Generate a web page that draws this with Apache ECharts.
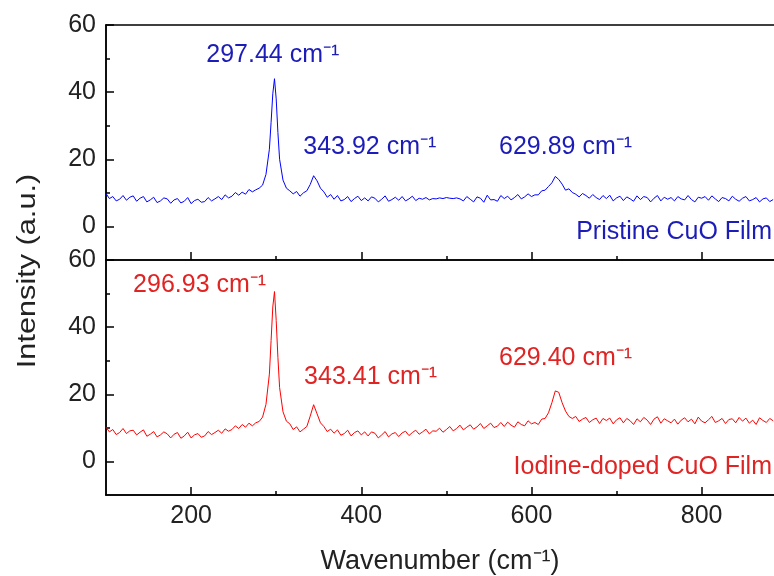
<!DOCTYPE html>
<html>
<head>
<meta charset="utf-8">
<script src="https://cdn.jsdelivr.net/npm/echarts@6/dist/echarts.min.js"></script>
<style>
  html, body { margin: 0; padding: 0; background: #fff; }
  #chart { width: 774px; height: 576px; }
</style>
</head>
<body>
<div id="chart"></div>
<script>
// wavenumber grid (cm-1), extra points around the 297 peak
const wavenumber = [
  100, 104, 108, 112, 116, 120, 124, 128, 132, 136,
  140, 144, 148, 152, 156, 160, 164, 168, 172, 176,
  180, 184, 188, 192, 196, 200, 204, 208, 212, 216,
  220, 224, 228, 232, 236, 240, 244, 248, 252, 256,
  260, 264, 268, 272, 276, 280, 284, 288, 292, 294,
  296, 298, 300, 302, 304, 308, 312, 316, 320, 324,
  328, 332, 336, 340, 344, 348, 352, 356, 360, 364,
  368, 372, 376, 380, 384, 388, 392, 396, 400, 404,
  408, 412, 416, 420, 424, 428, 432, 436, 440, 444,
  448, 452, 456, 460, 464, 468, 472, 476, 480, 484,
  488, 492, 496, 500, 504, 508, 512, 516, 520, 524,
  528, 532, 536, 540, 544, 548, 552, 556, 560, 564,
  568, 572, 576, 580, 584, 588, 592, 596, 600, 604,
  608, 612, 616, 620, 624, 628, 632, 636, 640, 644,
  648, 652, 656, 660, 664, 668, 672, 676, 680, 684,
  688, 692, 696, 700, 704, 708, 712, 716, 720, 724,
  728, 732, 736, 740, 744, 748, 752, 756, 760, 764,
  768, 772, 776, 780, 784, 788, 792, 796, 800, 804,
  808, 812, 816, 820, 824, 828, 832, 836, 840, 844,
  848, 852, 856, 860, 864, 868, 872, 876, 880, 884
];

// Pristine CuO film (blue)
const pristine = [
  9.8, 8.3, 8.9, 7.6, 8.1, 9.2, 7.8, 8.7, 9.1, 7.5,
  8.4, 8.9, 7.3, 7.9, 8.7, 7.1, 7.6, 8.5, 8.2, 6.9,
  7.9, 8.3, 7.0, 7.5, 8.6, 6.8, 7.7, 8.1, 7.2, 7.4,
  8.6, 7.6, 8.2, 8.9, 8.0, 9.4, 8.5, 9.0, 10.1, 9.3,
  10.2, 9.6, 11.0, 10.3, 10.9, 11.4, 12.3, 15.5, 23.0, 31.0,
  39.5, 44.0, 38.0, 28.0, 20.0, 13.8, 11.4, 10.6, 9.7, 10.4,
  9.0, 10.0, 10.6, 12.5, 15.1, 13.6, 11.4, 10.3, 8.7, 9.5,
  8.1, 9.2, 7.6, 8.0, 8.9, 7.4, 8.3, 9.0, 7.7, 8.5,
  7.6, 8.8, 8.4, 7.3, 8.1, 9.1, 7.5, 8.0, 8.7, 7.8,
  8.9, 7.6, 8.2, 9.0, 7.7, 8.4, 8.1, 8.6, 7.9, 8.3,
  8.2, 8.5, 8.3, 8.6, 8.4, 8.3, 8.5, 8.2, 7.6, 8.9,
  8.1, 7.3, 8.8, 8.4, 7.2, 9.3, 7.9, 8.0, 7.5, 9.2,
  8.3, 9.0, 7.9, 8.6, 9.5, 8.2, 8.8, 9.7, 8.9, 9.4,
  9.4, 10.6, 10.8, 11.9, 13.0, 14.9, 14.0, 12.6, 10.8, 11.2,
  10.1, 9.6, 8.8, 9.8, 9.2, 8.4, 9.5, 8.6, 8.0, 9.2,
  8.3, 9.3, 7.6, 8.5, 9.0, 7.7, 8.8, 8.2, 7.5, 9.1,
  8.0, 8.9, 8.6, 7.3, 8.4, 9.2, 7.6, 8.7, 8.1, 8.6,
  7.6, 8.9, 8.2, 7.9, 9.2, 8.0, 7.3, 8.7, 8.4, 8.9,
  7.8, 9.1, 8.2, 7.4, 8.6, 8.3, 7.6, 9.0, 8.1, 7.5,
  8.4, 8.9, 7.6, 8.0, 8.6, 7.3, 8.2, 8.5, 7.4, 8.0
];

// Iodine-doped CuO film (red)
const iodine = [
  10.2, 8.8, 9.5, 8.0, 8.6, 9.8, 8.3, 9.1, 9.3, 7.9,
  8.7, 9.4, 7.5, 8.1, 8.9, 7.3, 7.9, 8.8, 8.2, 7.0,
  8.1, 8.6, 6.9, 7.6, 8.7, 7.0, 7.9, 8.3, 7.2, 7.6,
  8.9, 8.0, 8.6, 9.3, 8.4, 9.7, 9.0, 9.5, 10.6, 9.8,
  11.0, 10.2, 11.4, 10.6, 11.5, 11.9, 13.2, 17.0, 26.0, 36.0,
  46.0, 50.6, 42.0, 31.0, 22.0, 14.8, 12.0, 11.2, 9.5, 10.3,
  8.8, 9.6, 10.4, 13.5, 16.9, 14.2, 11.5, 10.4, 8.9, 9.6,
  8.4, 9.4, 7.8, 8.3, 9.3, 7.6, 8.6, 9.1, 7.9, 8.8,
  7.6, 8.8, 8.4, 7.0, 7.9, 8.9, 7.3, 8.2, 8.6, 7.4,
  8.5, 9.0, 7.7, 8.6, 9.3, 8.1, 8.8, 9.6, 8.2, 9.1,
  9.0, 9.9, 8.7, 9.5, 10.4, 9.1, 9.8, 10.8, 9.4, 10.2,
  10.9, 9.6, 10.3, 11.3, 9.8, 10.6, 11.4, 10.1, 10.5, 11.6,
  10.4, 11.7, 10.8, 10.2, 11.8, 11.0, 10.6, 12.1, 11.2, 11.6,
  11.0, 12.6, 12.8, 14.5, 17.5, 21.0, 20.6, 17.5, 15.0, 13.4,
  12.8, 13.4, 11.9, 12.6, 13.1, 11.6, 12.4, 12.9, 11.3, 12.8,
  12.2, 12.9, 11.2, 12.4, 13.0, 11.5, 12.8, 12.1, 11.0, 12.7,
  11.8, 13.1, 12.3, 11.0, 12.6, 13.3, 11.4, 12.7, 12.1, 11.5,
  12.6, 11.1, 12.3, 13.0, 11.8, 12.6, 11.2, 13.2, 12.0, 11.5,
  12.4, 13.4, 11.6, 12.1, 12.8, 11.3, 12.5, 12.7, 11.5, 13.1,
  12.0, 12.9, 11.4, 12.3, 11.0, 13.0, 12.2, 11.6, 12.8, 12.1
];

// tick values
const xMajor = [200, 400, 600, 800];
const xMinor = [300, 500, 700];
const yMajor = [0, 20, 40, 60];
const yMinor = [10, 30, 50];

// peak annotations: [text, wavenumber, intensity]
const pristineNotes = [
  ['297.44 cm⁻¹', 296, 51],
  ['343.92 cm⁻¹', 410, 23.5],
  ['629.89 cm⁻¹', 640, 23.5]
];
const iodineNotes = [
  ['296.93 cm⁻¹', 210, 52.6],
  ['343.41 cm⁻¹', 411, 25.2],
  ['629.40 cm⁻¹', 640, 30.9]
];

const FONT = 'Arial, "Liberation Sans", sans-serif';
const BLUE = '#0000ff', BLUE_TXT = '#1c1cb8';
const RED = '#ff0000', RED_TXT = '#e02424';
const X_MIN = 100, X_MAX = 885;

const chart = echarts.init(document.getElementById('chart'));

const pairs = (ys) => wavenumber.map((x, i) => [x, ys[i]]);

const noteMarks = (notes, color, filmName, filmY) => ({
  symbol: 'circle',
  symbolSize: 0,
  silent: true,
  animation: false,
  label: { show: true, position: 'inside', formatter: '{b}', color: color, fontSize: 25, fontFamily: FONT },
  data: notes.map(n => ({ name: n[0], coord: [n[1], n[2]] })).concat([{
    name: filmName, coord: [X_MAX, filmY],
    label: { position: 'left', distance: 2 }
  }])
});

const axisLineStyle = { color: '#000', width: 1.5 };

function xAxes(grid, withLabels) {
  return [
    {
      type: 'value', gridIndex: grid, position: 'bottom', min: X_MIN, max: X_MAX,
      axisLine: { show: true, onZero: false, lineStyle: axisLineStyle },
      axisTick: { show: true, inside: true, length: 8, customValues: xMajor, lineStyle: axisLineStyle },
      axisLabel: { show: withLabels, customValues: xMajor, margin: 9, fontSize: 25, color: '#222', fontFamily: FONT },
      splitLine: { show: false },
      name: withLabels ? 'Wavenumber (cm⁻¹)' : '',
      nameLocation: 'middle', nameGap: 53,
      nameTextStyle: { fontSize: 27, color: '#222', fontFamily: FONT }
    },
    {
      // minor ticks, drawn on the same bottom line
      type: 'value', gridIndex: grid, position: 'bottom', offset: 0, min: X_MIN, max: X_MAX,
      axisLine: { show: true, onZero: false, lineStyle: axisLineStyle },
      axisTick: { show: true, inside: true, length: 4, customValues: xMinor, lineStyle: axisLineStyle },
      axisLabel: { show: false },
      splitLine: { show: false }
    }
  ];
}

function yAxes(grid) {
  return [
    {
      type: 'value', gridIndex: grid, position: 'left', min: -10, max: 60,
      axisLine: { show: true, onZero: false, lineStyle: axisLineStyle },
      axisTick: { show: true, inside: true, length: 8, customValues: yMajor, lineStyle: axisLineStyle },
      axisLabel: { show: true, customValues: yMajor, margin: 10, fontSize: 25, color: '#222', fontFamily: FONT },
      splitLine: { show: false }
    },
    {
      type: 'value', gridIndex: grid, position: 'left', offset: 0, min: -10, max: 60,
      axisLine: { show: true, onZero: false, lineStyle: axisLineStyle },
      axisTick: { show: true, inside: true, length: 4, customValues: yMinor, lineStyle: axisLineStyle },
      axisLabel: { show: false },
      splitLine: { show: false }
    }
  ];
}

const topFrame = {
  type: 'value', gridIndex: 0, position: 'top', min: X_MIN, max: X_MAX,
  axisLine: { show: true, onZero: false, lineStyle: axisLineStyle },
  axisTick: { show: false }, axisLabel: { show: false }, splitLine: { show: false }
};

chart.setOption({
  animation: false,
  backgroundColor: '#fff',
  grid: [
    { left: 106, right: 0, top: 25, height: 235 },
    { left: 106, right: 0, top: 260, height: 235 }
  ],
  xAxis: xAxes(0, false).concat([topFrame], xAxes(1, true)),
  yAxis: yAxes(0).concat(yAxes(1)),
  graphic: [{
    type: 'text', x: 28, y: 271, rotation: Math.PI / 2, scaleX: 1.18,
    style: {
      text: 'Intensity (a.u.)', fill: '#222', fontSize: 26, fontFamily: FONT,
      textAlign: 'center', align: 'center', textVerticalAlign: 'middle', verticalAlign: 'middle'
    }
  }],
  series: [
    {
      type: 'line', name: 'Pristine CuO Film', xAxisIndex: 0, yAxisIndex: 0,
      data: pairs(pristine), showSymbol: false, symbol: 'none',
      lineStyle: { color: BLUE, width: 1 }, itemStyle: { color: BLUE },
      markPoint: noteMarks(pristineNotes, BLUE_TXT, 'Pristine CuO Film', -1.6)
    },
    {
      type: 'line', name: 'Iodine-doped CuO Film', xAxisIndex: 3, yAxisIndex: 2,
      data: pairs(iodine), showSymbol: false, symbol: 'none',
      lineStyle: { color: RED, width: 1 }, itemStyle: { color: RED },
      markPoint: noteMarks(iodineNotes, RED_TXT, 'Iodine-doped CuO Film', -1.6)
    }
  ]
});
</script>
</body>
</html>
